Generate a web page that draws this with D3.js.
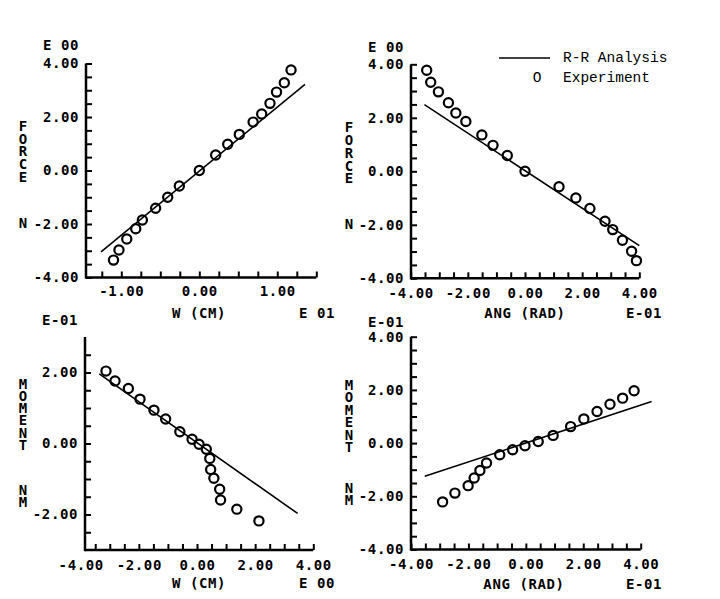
<!DOCTYPE html>
<html><head><meta charset="utf-8">
<script src="https://cdn.jsdelivr.net/npm/d3@7"></script>
<style>body{margin:0;background:#fff} svg{display:block;background:#fff}
.vt{writing-mode:vertical-rl;text-orientation:upright;}</style>
</head><body><svg id="c" width="720" height="599"></svg>
<script>
// ---------- DATA ----------
// Panel 1: FORCE vs W (CM), E 01 / E 00
const p1ExpX = [-1.10,-1.03,-0.93,-0.815,-0.73,-0.56,-0.405,-0.256,0.0,0.21,0.364,0.513,0.69,0.80,0.906,0.99,1.09,1.176];
const p1ExpY = [-3.35,-2.97,-2.56,-2.18,-1.85,-1.41,-1.00,-0.58,0.0,0.58,0.98,1.35,1.81,2.11,2.51,2.93,3.28,3.76];
const p1LineX = [-1.26, 1.355];
const p1LineY = [-3.04, 3.22];
// Panel 2: FORCE vs ANG (RAD), E-01 / E 00
const p2ExpX = [-3.44,-3.30,-3.03,-2.68,-2.42,-2.07,-1.51,-1.12,-0.62,0.0,1.19,1.78,2.27,2.80,3.07,3.41,3.73,3.90];
const p2ExpY = [3.78,3.33,2.97,2.56,2.18,1.86,1.36,0.97,0.59,0.0,-0.58,-1.0,-1.39,-1.87,-2.18,-2.58,-2.99,-3.34];
const p2LineX = [-3.52, 4.0];
const p2LineY = [2.49, -2.78];
// Panel 3: MOMENT vs W (CM), E 00 / E-01
const p3ExpX = [-3.13,-2.82,-2.36,-1.96,-1.48,-1.08,-0.59,-0.17,0.07,0.32,0.44,0.47,0.58,0.78,0.81,1.37,2.13];
const p3ExpY = [2.04,1.76,1.55,1.25,0.94,0.69,0.33,0.12,-0.02,-0.16,-0.42,-0.73,-0.98,-1.29,-1.59,-1.85,-2.18];
const p3LineX = [-3.36, 3.46];
const p3LineY = [1.96, -1.97];
// Panel 4: MOMENT vs ANG (RAD), E-01 / E-01
const p4ExpX = [-2.90,-2.47,-2.01,-1.80,-1.60,-1.37,-0.91,-0.46,-0.03,0.43,0.95,1.56,2.02,2.48,2.93,3.37,3.77];
const p4ExpY = [-2.21,-1.88,-1.60,-1.31,-1.03,-0.75,-0.44,-0.25,-0.10,0.06,0.29,0.62,0.91,1.19,1.46,1.69,1.97];
const p4LineX = [-3.52, 4.38];
const p4LineY = [-1.25, 1.56];

// Tick labels
const p1XLabelVals = [-1, 0, 1], p1XLabels = ["-1.00","0.00","1.00"];
const p1YLabelVals = [4, 2, 0, -2, -4], p1YLabels = ["4.00","2.00","0.00","-2.00","-4.00"];
const p2XLabelVals = [-4,-2,0,2,4], p2XLabels = ["-4.00","-2.00","0.00","2.00","4.00"];
const p2YLabelVals = [4, 2, 0, -2, -4], p2YLabels = ["4.00","2.00","0.00","-2.00","-4.00"];
const p3XLabelVals = [-4,-2,0,2,4], p3XLabels = ["-4.00","-2.00","0.00","2.00","4.00"];
const p3YLabelVals = [2, 0, -2], p3YLabels = ["2.00","0.00","-2.00"];
const p4XLabelVals = [-4,-2,0,2,4], p4XLabels = ["-4.00","-2.00","0.00","2.00","4.00"];
const p4YLabelVals = [4, 2, 0, -2, -4], p4YLabels = ["4.00","2.00","0.00","-2.00","-4.00"];

// Minor tick positions
const p1XTicks = d3.range(-1.25, 1.51, 0.25);
const p1YTicks = d3.range(-4, 4.01, 0.5);
const p2XTicks = d3.range(-4, 4.01, 0.5);
const p2YTicks = d3.range(-4, 4.01, 0.5);
const p3XTicks = d3.range(-3.5, 4.01, 0.5);
const p3YTicks = d3.range(-2.5, 2.51, 0.5);
const p4XTicks = d3.range(-4, 4.01, 0.5);
const p4YTicks = d3.range(-4, 4.01, 0.5);

// Texts
const legendLabels = ["R-R Analysis", "Experiment"];

// ---------- DRAW ----------
const svg = d3.select("#c");
const FONT = "'DejaVu Sans Mono', monospace";

function styleText(sel) {
  return sel.attr("font-family", FONT).attr("font-weight", "bold")
    .attr("font-size", 14).attr("letter-spacing", 0.6).attr("fill", "#000");
}

function panel(c) {
  const x = d3.scaleLinear().domain(c.xDomain).range(c.xRange);
  const y = d3.scaleLinear().domain(c.yDomain).range(c.yRange);
  const g = svg.append("g");
  const y0 = y(c.yDomain[0]);

  // x ticks (inward, up)
  const xa = g.append("g").attr("transform", `translate(0,${y0})`)
    .call(d3.axisBottom(x).tickValues(c.xTicks).tickSize(-6).tickFormat(""));
  xa.select(".domain").remove();
  xa.selectAll("line").attr("stroke", "#000").attr("stroke-width", 2);
  // x labels
  const xl = g.append("g").attr("transform", `translate(0,${y0})`)
    .call(d3.axisBottom(x).tickValues(c.xLabelVals).tickSize(0).tickPadding(c.xPad)
      .tickFormat((d, i) => c.xLabels[i]));
  xl.select(".domain").remove();
  styleText(xl.selectAll("text"));

  // y ticks (inward, right)
  const ya = g.append("g").attr("transform", `translate(${c.axisLeft},0)`)
    .call(d3.axisLeft(y).tickValues(c.yTicks).tickSize(-6).tickFormat(""));
  ya.select(".domain").remove();
  ya.selectAll("line").attr("stroke", "#000").attr("stroke-width", 2);
  const yl = g.append("g").attr("transform", `translate(${c.axisLeft},0)`)
    .call(d3.axisLeft(y).tickValues(c.yLabelVals).tickSize(0).tickPadding(7)
      .tickFormat((d, i) => c.yLabels[i]));
  yl.select(".domain").remove();
  styleText(yl.selectAll("text"));

  // axis lines
  g.append("line").attr("x1", c.axisLeft).attr("x2", x(c.xDomain[1]))
    .attr("y1", y0).attr("y2", y0).attr("stroke", "#000").attr("stroke-width", 2.5);
  g.append("line").attr("x1", c.axisLeft).attr("x2", c.axisLeft)
    .attr("y1", y0 + 1.2).attr("y2", y(c.yDomain[1])).attr("stroke", "#000").attr("stroke-width", 2.5);

  // analysis line
  const lineData = c.lineX.map((v, i) => [v, c.lineY[i]]);
  g.append("path").datum(lineData)
    .attr("d", d3.line().x(d => x(d[0])).y(d => y(d[1])))
    .attr("fill", "none").attr("stroke", "#000").attr("stroke-width", 1.6);

  // experiment points
  const pts = c.expX.map((v, i) => [v, c.expY[i]]);
  g.selectAll("circle.e").data(pts).join("circle")
    .attr("cx", d => x(d[0])).attr("cy", d => y(d[1])).attr("r", 4.6)
    .attr("fill", "none").attr("stroke", "#000").attr("stroke-width", 2.2);

  const txt = (s, tx, ty, anchor) => styleText(g.append("text").text(s).attr("x", tx).attr("y", ty)
    .attr("text-anchor", anchor || "start").attr("dominant-baseline", "central"));
  // exponent label on y axis
  txt(c.yExp, c.axisLeft - 7, c.yExpY, "end");
  // x title & exponent
  txt(c.xTitle, c.xTitleX, c.xTitleY, "middle");
  txt(c.xExp, c.xExpX, c.xTitleY, "middle");
  // vertical y title: upright stacked letters in one text element
  const fs = 14, adv = 1.164 * fs;
  const vtext = (word, yc) => styleText(g.append("text").attr("class", "vt").text(word))
      .attr("font-size", fs).attr("letter-spacing", c.yStep - adv)
      .attr("x", c.yTitleX).attr("y", yc - adv / 2);
  vtext(c.yTitle, c.yTitleY0);
  vtext(c.yUnit, c.yUnitY0);
}

panel({
  xDomain: [-1.5, 1.5], xRange: [82.3, 316.3], yDomain: [-4, 4], yRange: [277.5, 63.5],
  axisLeft: 86, xTicks: p1XTicks, yTicks: p1YTicks,
  xLabelVals: p1XLabelVals, xLabels: p1XLabels, yLabelVals: p1YLabelVals, yLabels: p1YLabels, xPad: 9,
  expX: p1ExpX, expY: p1ExpY, lineX: p1LineX, lineY: p1LineY,
  yExp: "E 00", yExpY: 45, xTitle: "W (CM)", xExp: "E 01", xTitleX: 199, xExpX: 317, xTitleY: 313,
  yTitle: "FORCE", yUnit: "N", yTitleX: 23, yTitleY0: 126, yUnitY0: 223, yStep: 13
});
panel({
  xDomain: [-4, 4], xRange: [410.7, 639.3], yDomain: [-4, 4], yRange: [278.3, 64.3],
  axisLeft: 411, xTicks: p2XTicks, yTicks: p2YTicks,
  xLabelVals: p2XLabelVals, xLabels: p2XLabels, yLabelVals: p2YLabelVals, yLabels: p2YLabels, xPad: 10,
  expX: p2ExpX, expY: p2ExpY, lineX: p2LineX, lineY: p2LineY,
  yExp: "E 00", yExpY: 46.5, xTitle: "ANG (RAD)", xExp: "E-01", xTitleX: 525, xExpX: 644, xTitleY: 313,
  yTitle: "FORCE", yUnit: "N", yTitleX: 349, yTitleY0: 127, yUnitY0: 224, yStep: 13.2
});
panel({
  xDomain: [-4, 4], xRange: [80.7, 313.3], yDomain: [-3, 3], yRange: [550, 337],
  axisLeft: 85, xTicks: p3XTicks, yTicks: p3YTicks,
  xLabelVals: p3XLabelVals, xLabels: p3XLabels, yLabelVals: p3YLabelVals, yLabels: p3YLabels, xPad: 10,
  expX: p3ExpX, expY: p3ExpY, lineX: p3LineX, lineY: p3LineY,
  yExp: "E-01", yExpY: 320, xTitle: "W (CM)", xExp: "E 00", xTitleX: 199, xExpX: 317, xTitleY: 583,
  yTitle: "MOMENT", yUnit: "NM", yTitleX: 23, yTitleY0: 384, yUnitY0: 490, yStep: 12.5
});
panel({
  xDomain: [-4, 4], xRange: [411, 640.7], yDomain: [-4, 4], yRange: [549.5, 336.7],
  axisLeft: 411, xTicks: p4XTicks, yTicks: p4YTicks,
  xLabelVals: p4XLabelVals, xLabels: p4XLabels, yLabelVals: p4YLabelVals, yLabels: p4YLabels, xPad: 10,
  expX: p4ExpX, expY: p4ExpY, lineX: p4LineX, lineY: p4LineY,
  yExp: "E-01", yExpY: 322, xTitle: "ANG (RAD)", xExp: "E-01", xTitleX: 524, xExpX: 644, xTitleY: 584,
  yTitle: "MOMENT", yUnit: "NM", yTitleX: 349, yTitleY0: 385, yUnitY0: 488, yStep: 12.8
});

// Legend
const LF = "'Liberation Mono', 'Courier New', monospace";
const lg = svg.append("g");
lg.append("line").attr("x1", 499).attr("x2", 550).attr("y1", 58).attr("y2", 58)
  .attr("stroke", "#000").attr("stroke-width", 1.3);
lg.append("text").text(legendLabels[0]).attr("x", 563).attr("y", 58)
  .attr("dominant-baseline", "central").attr("font-family", LF).attr("font-size", 14.5).attr("fill", "#000");
lg.append("text").text("O").attr("x", 537).attr("y", 77.5).attr("text-anchor", "middle")
  .attr("dominant-baseline", "central").attr("font-family", LF).attr("font-size", 14.5).attr("fill", "#000");
lg.append("text").text(legendLabels[1]).attr("x", 563).attr("y", 77.5)
  .attr("dominant-baseline", "central").attr("font-family", LF).attr("font-size", 14.5).attr("fill", "#000");
</script>
</body></html>
